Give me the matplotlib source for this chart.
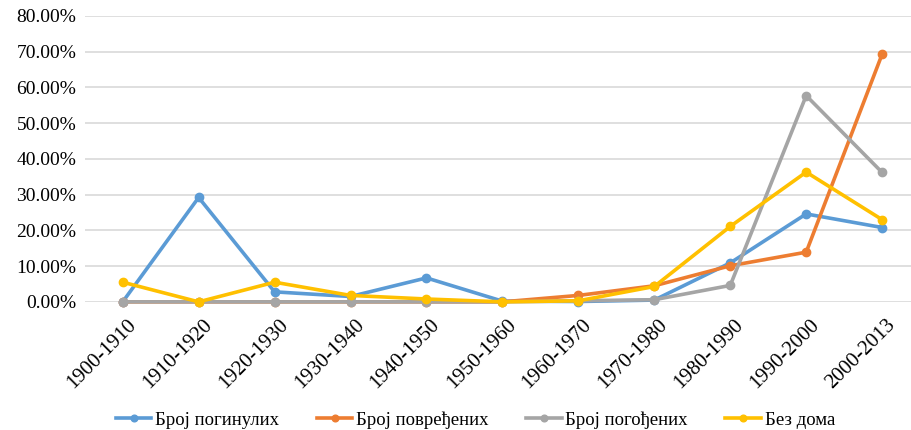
import matplotlib.pyplot as plt
from matplotlib.ticker import FuncFormatter
from matplotlib.transforms import ScaledTranslation

plt.rcParams['font.family'] = ['Liberation Serif', 'DejaVu Serif']

periods = ['1900-1910', '1910-1920', '1920-1930', '1930-1940', '1940-1950', '1950-1960',
           '1960-1970', '1970-1980', '1980-1990', '1990-2000', '2000-2013']

killed = [0.0, 29.2, 2.8, 1.5, 6.7, 0.2, 0.1, 0.5, 10.9, 24.6, 20.8]
injured = [0.0, 0.0, 0.0, 0.0, 0.0, 0.0, 1.8, 4.5, 10.1, 13.9, 69.3]
affected = [0.0, 0.0, 0.0, 0.0, 0.0, 0.0, 0.3, 0.6, 4.6, 57.7, 36.2]
homeless = [5.5, 0.0, 5.5, 1.8, 0.8, 0.0, 0.3, 4.3, 21.1, 36.3, 23.0]

series = [
    ('Број погинулих', killed, '#5b9bd5'),
    ('Број повређених', injured, '#ed7d31'),
    ('Број погођених', affected, '#a5a5a5'),
    ('Без дома', homeless, '#ffc000'),
]

fig, ax = plt.subplots(figsize=(9.11, 4.30), dpi=100)
# plot area runs a bit past the right edge, as in the reference
fig.subplots_adjust(left=0.093, right=1.01, top=0.963, bottom=0.298)

x = list(range(len(periods)))
for name, vals, color in series:
    ax.plot(x, vals, color=color, lw=2.6, marker='o', markersize=6, label=name,
            clip_on=False)

ax.set_ylim(0, 80)
ax.set_yticks(range(0, 81, 10))
ax.yaxis.set_major_formatter(FuncFormatter(lambda v, p: f'{v:.2f}%'))
ax.set_xlim(-0.5, len(periods) - 0.5)
ax.set_xticks(x)
ax.set_xticklabels(periods, rotation=45, ha='right', rotation_mode='anchor')
ax.tick_params(axis='both', length=0)
ax.tick_params(axis='y', pad=6, labelsize=14)
ax.tick_params(axis='x', pad=10, labelsize=15)
shift = ScaledTranslation(4 / 100, 0, fig.dpi_scale_trans)
for lbl in ax.get_xticklabels():
    lbl.set_transform(lbl.get_transform() + shift)
ax.grid(axis='y', color='#d9d9d9', lw=1.2)
ax.set_axisbelow(True)
for s in ax.spines.values():
    s.set_visible(False)

fig.legend(loc='lower center', ncol=4, frameon=False, fontsize=13.5,
           bbox_to_anchor=(0.522, -0.037), handlelength=1.9, columnspacing=2.0,
           handletextpad=0.2, markerscale=0.8)

fig.savefig('out.png', dpi=100)
